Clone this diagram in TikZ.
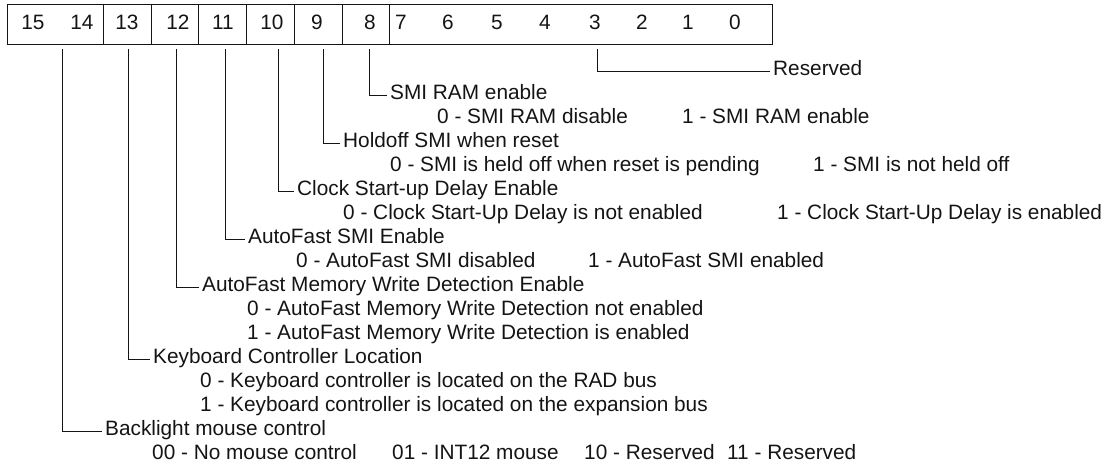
\documentclass[tikz,border=0pt]{standalone}
\usepackage{fontspec}
\setmainfont{Liberation Sans}
\usepackage{tikz}
\usepackage{xcolor}
\definecolor{inkblack}{RGB}{20,20,20}
\newcommand{\regfont}{\fontsize{20.8}{24}\selectfont}
\tikzset{
  regbox/.style={draw=inkblack, line width=1pt},
  bitnum/.style={anchor=base, inner sep=0pt, text=inkblack, font=\regfont},
  hdr/.style={anchor=west, inner sep=0pt, text height=11pt, text depth=3pt,
              text=inkblack, font=\regfont},
  val/.style={hdr},
  leader/.style={draw=inkblack, line width=0.8pt, shorten >=3pt},
}

\begin{document}
\begin{tikzpicture}[x=1pt, y=-1pt]
\useasboundingbox (0,0) rectangle (1106,463);
% register fields
\draw[regbox] (7,4) rectangle (772,44);
\foreach \x in {103,151,198,246,294,342,389}
  \draw[regbox] (\x,4) -- (\x,44);
\foreach \n/\x in {15/33,14/82,13/127,12/178,11/223,10/272,9/317,8/370,
                   7/401,6/448,5/497,4/545,3/595,2/642,1/688,0/735}
  \node[bitnum] (b\n) at (\x,29.5) {\n};
% leader start points
\foreach \n/\x in {14/62,13/128,12/176,11/225,10/278,9/323,8/369,3/597}
  \coordinate (t\n) at (\x,49);
% field descriptions
\node[hdr] (rsv) at (773,71.5) {Reserved};
\node[hdr] (smiram) at (390,95.5) {SMI RAM enable};
\node[val] (smiram0) at (437,119.5) {0 - SMI RAM disable};
\node[val] (smiram1) at (682,119.5) {1 - SMI RAM enable};
\node[hdr] (holdoff) at (343,143.5) {Holdoff SMI when reset};
\node[val] (holdoff0) at (390,167.5) {0 - SMI is held off when reset is pending};
\node[val] (holdoff1) at (813,167.5) {1 - SMI is not held off};
\node[hdr] (clkdly) at (297,191.5) {Clock Start-up Delay Enable};
\node[val] (clkdly0) at (343,215.5) {0 - Clock Start-Up Delay is not enabled};
\node[val] (clkdly1) at (777,215.5) {1 - Clock Start-Up Delay is enabled};
\node[hdr] (afsmi) at (248,239.5) {AutoFast SMI Enable};
\node[val] (afsmi0) at (296,263.5) {0 - AutoFast SMI disabled};
\node[val] (afsmi1) at (588,263.5) {1 - AutoFast SMI enabled};
\node[hdr] (afmwd) at (202,287.5) {AutoFast Memory Write Detection Enable};
\node[val] (afmwd0) at (247,311.5) {0 - AutoFast Memory Write Detection not enabled};
\node[val] (afmwd1) at (247,335.5) {1 - AutoFast Memory Write Detection is enabled};
\node[hdr] (kbc) at (153,359.5) {Keyboard Controller Location};
\node[val] (kbc0) at (200,383.5) {0 - Keyboard controller is located on the RAD bus};
\node[val] (kbc1) at (200,407.5) {1 - Keyboard controller is located on the expansion bus};
\node[hdr] (blmouse) at (105,431.5) {Backlight mouse control};
\node[val] (blmouse00) at (152,455.5) {00 - No mouse control};
\node[val] (blmouse01) at (392,455.5) {01 - INT12 mouse};
\node[val] (blmouse10) at (584,455.5) {10 - Reserved};
\node[val] (blmouse11) at (727,455.5) {11 - Reserved};
% leaders from the bits
\foreach \t/\h in {t3/rsv, t8/smiram, t9/holdoff, t10/clkdly, t11/afsmi,
                   t12/afmwd, t13/kbc, t14/blmouse}
  \draw[leader] (\t) |- (\h.west);
\end{tikzpicture}
\end{document}
